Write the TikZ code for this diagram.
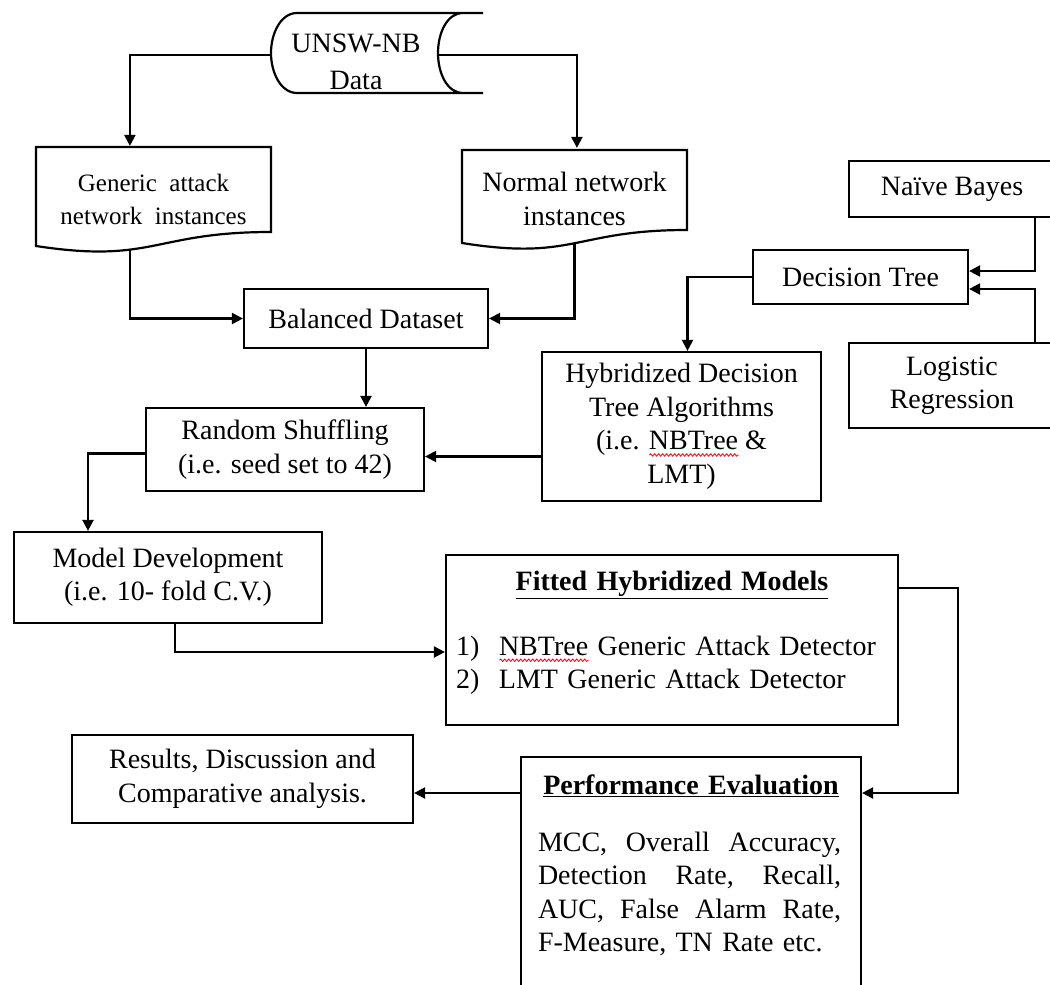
\documentclass[tikz,border=0pt]{standalone}
\usepackage{fontspec}
\setmainfont{Liberation Serif}
\usetikzlibrary{arrows.meta,calc,decorations.pathmorphing}

\newlength{\spelllen}
\newcommand{\spellwave}[1]{\settowidth{\spelllen}{#1}\rlap{\tikz[baseline=0pt,x=1pt,y=1pt]\draw[red,line width=0.8pt,decorate,decoration={snake,amplitude=1.2pt,segment length=4pt}] (0,-5) -- (\spelllen,-5);}#1}

\begin{document}
\begin{tikzpicture}[x=1pt,y=-1pt]
	\tikzset{box/.style={draw,line width=2.2pt,inner sep=0pt,align=center,font=\fontsize{28}{33.5}\selectfont},
		arr/.style={line width=2.2pt,-{Triangle[length=11pt,width=11pt]}}}

	\useasboundingbox (0,0) rectangle (1050,985);

	% data source
	\draw[line width=2.2pt] (297,13) -- (483,13) (297,93) -- (483,93)
		(297,13) .. controls (281,13) and (271,33) .. (271,53) .. controls (271,73) and (281,93) .. (297,93)
		(463,13) .. controls (447,13) and (438,33) .. (438,53) .. controls (438,73) and (447,93) .. (463,93);
	\node[box,draw=none] (data) at (356,62) {UNSW-NB\\[3pt]Data};
	\coordinate (data-l) at (271,55);
	\coordinate (data-r) at (438,55);

	% documents
	\node[box,draw=none,minimum width=235pt,minimum height=105pt,font=\fontsize{25}{33}\selectfont] (gattack) at (153.5,199.5) {Generic\ \ attack\\network\ \ instances};
	\draw[line width=2.2pt] (36,147) -- (271,147) -- (271,232) .. controls (153.5,232) and (153.5,264) .. (36,246) coordinate[pos=0.63] (gattack-out) -- cycle;
	\node[box,draw=none,minimum width=225pt,minimum height=100pt] (normal) at (574.5,199) {Normal network\\instances};
	\draw[line width=2.2pt] (462,150) -- (687,150) -- (687,230) .. controls (574.5,230) and (574.5,261) .. (462,243) coordinate[pos=0.5] (normal-out) -- cycle;

	\node[box,minimum width=244pt,minimum height=59pt] (balanced) at (366,318.5) {Balanced Dataset};
	\node[box,minimum width=278pt,minimum height=83pt] (shuffle) at (285,449.5) {Random Shuffling\\(i.e. seed set to 42)};
	\node[box,minimum width=279pt,minimum height=149pt] (hybrid) at (681.5,426.5) {Hybridized Decision\\Tree Algorithms\\(i.e. \spellwave{NBTree} \&\\LMT)};
	\node[box,minimum width=215pt,minimum height=54pt] (dtree) at (860.5,277) {Decision Tree};
	\node[box,minimum width=206pt,minimum height=56pt] (nbayes) at (952,189) {Naïve Bayes};
	\node[box,minimum width=206pt,minimum height=85pt] (logreg) at (952,385.5) {Logistic\\Regression};
	\node[box,minimum width=308pt,minimum height=91pt] (modeldev) at (168,577.5) {Model Development\\(i.e. 10- fold C.V.)};
	\node[box,minimum width=452pt,minimum height=170pt,text width=432pt,align=left] (fitted) at (672,640) {\makebox[432pt]{\textbf{\underline{Fitted Hybridized Models}}}\\[31pt]
		\makebox[43pt][l]{1)}\spellwave{NBTree} Generic Attack Detector\\
		\makebox[43pt][l]{2)}LMT Generic Attack Detector\rule[-20pt]{0pt}{1pt}};
	\node[box,minimum width=340pt,text width=306pt,align=left,inner ysep=18pt,anchor=north] (perf) at (691,756) {\makebox[306pt]{\textbf{\underline{Performance Evaluation}}}\\[23pt]
		\makebox[303pt]{MCC,\hfill Overall\hfill Accuracy,}\\
		\makebox[303pt]{Detection\hfill Rate,\hfill Recall,}\\
		\makebox[303pt]{AUC,\hfill False\hfill Alarm\hfill Rate,}\\
		F-Measure, TN Rate etc.\rule[-60pt]{0pt}{1pt}};
	\node[box,minimum width=341pt,minimum height=88pt] (results) at (242.5,779) {Results, Discussion and\\Comparative analysis.};

	\draw[arr] (data-l) -| ($(gattack.north west)+(95,0)$);
	\draw[arr] (data-r) -| ($(normal.north west)+(116,0)$);
	\draw[arr] (gattack-out) |- (balanced.west);
	\draw[arr] (normal-out) |- (balanced.east);
	\draw[arr] (balanced.south) -- (balanced.south |- shuffle.north);
	\draw[arr] ([yshift=-30pt]hybrid.west) -- ([yshift=-30pt]hybrid.west -| shuffle.east);
	\draw[arr] (dtree.west) -| ([xshift=6pt]hybrid.north);
	\draw[arr] ([xshift=83pt]nbayes.south) |- ([yshift=6pt]dtree.east);
	\draw[arr] ([xshift=83pt]logreg.north) |- ([yshift=-12pt]dtree.east);
	\draw[arr] ([yshift=-4pt]shuffle.west) -| ([xshift=-80pt]modeldev.north);
	\draw[arr] ([xshift=7pt]modeldev.south) |- ([yshift=-12pt]fitted.west);
	\draw[arr] ([yshift=52pt]fitted.east) -- ++(59,0) |- ([yshift=-37pt]perf.north east);
	\draw[arr] ([yshift=-37pt]perf.north west) -- ([yshift=-37pt]perf.north west -| results.east);

\end{tikzpicture}
\end{document}
